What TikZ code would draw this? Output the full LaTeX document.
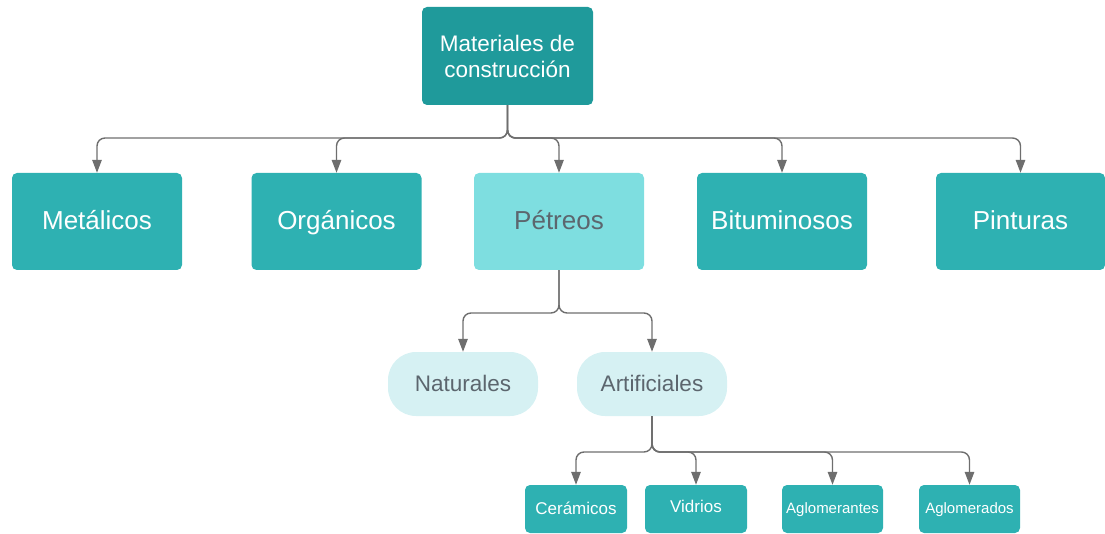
\documentclass[tikz,border=0pt]{standalone}
\usepackage{fontspec}
\setmainfont{Liberation Sans}
\usetikzlibrary{arrows.meta}
\definecolor{topteal}{HTML}{1F9A9B}
\definecolor{teal2}{HTML}{2EB1B2}
\definecolor{lightteal}{HTML}{7EDEE0}
\definecolor{paleteal}{HTML}{D6F1F3}
\definecolor{greytext}{HTML}{5C666E}
\definecolor{linegrey}{HTML}{6E6E6E}
\tikzset{
  box/.style={rectangle, rounded corners=5pt, fill=teal2, text=white, inner sep=0pt, anchor=center},
  bigbox/.style={box, minimum width=170pt, minimum height=97pt, font=\fontsize{26}{30}\selectfont, text height=18.6pt, text depth=3pt},
  smallbox/.style={box, minimum width=102pt, minimum height=48pt, font=\fontsize{17}{20}\selectfont, text height=12.2pt, text depth=1.5pt},
  tinybox/.style={box, minimum width=101pt, minimum height=48pt, font=\fontsize{15}{18}\selectfont, text height=10.7pt, text depth=1.5pt},
  pill/.style={rectangle, rounded corners=28pt, fill=paleteal, text=greytext, minimum width=150pt, minimum height=64pt, inner sep=0pt, font=\fontsize{22.5}{26}\selectfont, text height=16.1pt, text depth=2pt},
  conn/.style={draw=linegrey, line width=1.4pt, rounded corners=8pt, -{Triangle[length=13pt,width=9.5pt]}},
}
\begin{document}
\begin{tikzpicture}[x=1pt,y=-1pt]
\useasboundingbox (0,0) rectangle (1105,534);
\node[rectangle, rounded corners=5pt, fill=topteal, text=white, inner sep=0pt, minimum width=171pt, minimum height=98pt, align=center, font=\fontsize{22.5}{26}\selectfont] (top) at (507.5,56) {Materiales de\\construcción};
\node[bigbox] (met) at (97,221.5) {Metálicos};
\node[bigbox] (org) at (336.5,221.5) {Orgánicos};
\node[bigbox, fill=lightteal, text=greytext] (pet) at (559,221.5) {Pétreos};
\node[bigbox] (bit) at (782,221.5) {Bituminosos};
\node[bigbox, minimum width=169pt] (pin) at (1020.5,221.5) {Pinturas};
\node[pill] (nat) at (463,384) {Naturales};
\node[pill] (art) at (652,384) {Artificiales};
\node[smallbox] (cer) at (576,509) {Cerámicos};
\node[smallbox, text depth=5pt] (vid) at (696,509) {Vidrios};
\node[tinybox] (agt) at (832.5,509) {Aglomerantes};
\node[tinybox] (ags) at (969.5,509) {Aglomerados};
\coordinate (b1) at (507.5,138);
\coordinate (b2) at (559,313);
\coordinate (b3) at (652,452);
\foreach \c in {met,org,pet,bit,pin}
  \draw[conn] (top.south) -- (b1) -| (\c.north);
\foreach \c in {nat,art}
  \draw[conn] (pet.south) -- (b2) -| (\c.north);
\foreach \c in {cer,vid,agt,ags}
  \draw[conn] (art.south) -- (b3) -| (\c.north);
\end{tikzpicture}
\end{document}
